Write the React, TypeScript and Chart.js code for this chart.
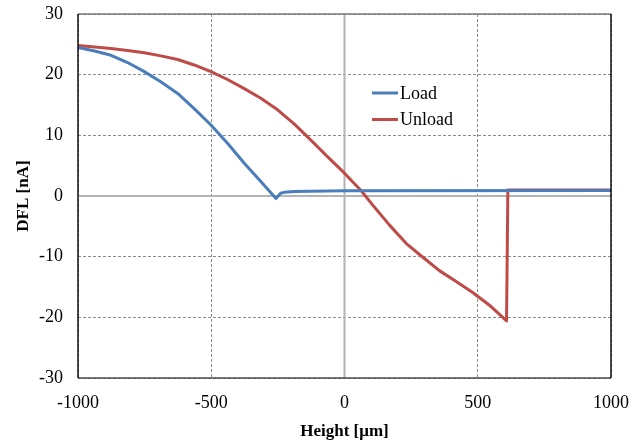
import { useEffect, useRef } from "react";
import { Chart, registerables } from "chart.js";

Chart.register(...registerables);

// Load curve (Height µm, DFL nA)
const loadX = [-1000, -938, -876, -814, -751, -688, -626, -564, -501, -439, -376, -314, -257, -240, -226, -189, 0, 1000];
const loadY = [24.5, 23.9, 23.2, 22.0, 20.5, 18.8, 16.9, 14.4, 11.7, 8.7, 5.4, 2.4, -0.4, 0.45, 0.6, 0.75, 0.85, 0.9];

// Unload curve
const unloadX = [-1000, -876, -814, -751, -689, -626, -564, -501, -439, -376, -314, -251, -189, -126, -64, -1, 62, 106, 169, 231, 294, 356, 419, 481, 544, 608, 613, 1000];
const unloadY = [24.8, 24.3, 24.0, 23.6, 23.1, 22.5, 21.6, 20.5, 19.2, 17.7, 16.1, 14.2, 11.9, 9.2, 6.5, 3.8, 0.9, -1.5, -4.8, -7.8, -10.1, -12.3, -14.1, -15.9, -18.0, -20.6, 1.0, 1.0];

const seriesNames = ["Load", "Unload"];
const seriesColors = ["#4a7ebb", "#be4b48"];
const xTickValues = [-1000, -500, 0, 500, 1000];
const yTickValues = [-30, -20, -10, 0, 10, 20, 30];
const xTitle = "Height [\u03bcm]";
const yTitle = "DFL [nA]";

const FONT = "'Liberation Serif', 'Times New Roman', serif";

export default function App() {
  const ref = useRef<HTMLCanvasElement | null>(null);

  useEffect(() => {
    const canvas = ref.current;
    if (!canvas) return;

    const overlay = {
      id: "overlay",
      beforeDatasetsDraw(chart: any) {
        const { ctx, chartArea, scales } = chart;
        const x0 = scales.x.getPixelForValue(0);
        const y0 = scales.y.getPixelForValue(0);
        ctx.save();
        ctx.strokeStyle = "#b4b4b4";
        ctx.lineWidth = 2;
        ctx.setLineDash([]);
        ctx.beginPath();
        ctx.moveTo(x0, chartArea.top);
        ctx.lineTo(x0, chartArea.bottom);
        ctx.moveTo(chartArea.left, y0);
        ctx.lineTo(chartArea.right, y0);
        ctx.stroke();
        ctx.restore();
      },
      afterDatasetsDraw(chart: any) {
        const { ctx, chartArea } = chart;
        const { left, right, top, bottom } = chartArea;
        ctx.save();
        ctx.setLineDash([]);
        ctx.lineWidth = 1.5;
        ctx.strokeStyle = "#7a7a7a";
        ctx.beginPath();
        ctx.moveTo(left, top);
        ctx.lineTo(right, top);
        ctx.stroke();
        ctx.strokeStyle = "#4a4a4a";
        ctx.beginPath();
        ctx.moveTo(left, bottom);
        ctx.lineTo(right, bottom);
        ctx.stroke();
        ctx.strokeStyle = "#111111";
        ctx.beginPath();
        ctx.moveTo(left, top);
        ctx.lineTo(left, bottom);
        ctx.moveTo(right, top);
        ctx.lineTo(right, bottom);
        ctx.stroke();

        // legend
        const lx = left + 294;
        const ly = top + 79;
        seriesNames.forEach((name, i) => {
          const y = ly + i * 26.5;
          ctx.strokeStyle = seriesColors[i];
          ctx.lineWidth = 3;
          ctx.beginPath();
          ctx.moveTo(lx, y);
          ctx.lineTo(lx + 26, y);
          ctx.stroke();
          ctx.fillStyle = "#000";
          ctx.font = `18px ${FONT}`;
          ctx.textBaseline = "middle";
          ctx.textAlign = "left";
          ctx.fillText(name, lx + 28, y + 1);
        });
        ctx.restore();
      },
    };

    const chart = new Chart(canvas, {
      type: "scatter",
      data: {
        datasets: [
          {
            label: seriesNames[0],
            data: loadX.map((x, i) => ({ x, y: loadY[i] })),
            borderColor: seriesColors[0],
            backgroundColor: seriesColors[0],
            borderWidth: 3,
            showLine: true,
            pointRadius: 0,
            tension: 0,
            borderJoinStyle: "round",
          },
          {
            label: seriesNames[1],
            data: unloadX.map((x, i) => ({ x, y: unloadY[i] })),
            borderColor: seriesColors[1],
            backgroundColor: seriesColors[1],
            borderWidth: 3,
            showLine: true,
            pointRadius: 0,
            tension: 0,
            borderJoinStyle: "round",
          },
        ],
      },
      options: {
        responsive: false,
        animation: false,
        layout: { padding: { left: 0, right: 24, top: 14, bottom: 0 } },
        plugins: { legend: { display: false }, tooltip: { enabled: false } },
        scales: {
          x: {
            type: "linear",
            min: -1000,
            max: 1000,
            afterBuildTicks: (s: any) => {
              s.ticks = xTickValues.map((v) => ({ value: v }));
            },
            afterFit: (s: any) => {
              s.height = 66;
              s.paddingLeft = 0;
              s.paddingRight = 0;
            },
            ticks: {
              color: "#000",
              font: { family: FONT, size: 18 },
              padding: 14,
              maxRotation: 0,
              callback: (v: any) => String(v),
            },
            grid: { color: "#8a8a8a", lineWidth: 1, drawTicks: false },
            border: { display: false, dash: [3, 2] },
            title: {
              display: true,
              text: xTitle,
              color: "#000",
              font: { family: FONT, size: 17, weight: "bold" },
              padding: { top: 2, bottom: 2 },
            },
          },
          y: {
            type: "linear",
            min: -30,
            max: 30,
            afterBuildTicks: (s: any) => {
              s.ticks = yTickValues.map((v) => ({ value: v }));
            },
            afterFit: (s: any) => {
              s.width = 78;
              s.paddingTop = 0;
              s.paddingBottom = 0;
            },
            ticks: {
              color: "#000",
              font: { family: FONT, size: 18 },
              padding: 15,
              callback: (v: any) => String(v),
            },
            grid: { color: "#8a8a8a", lineWidth: 1, drawTicks: false },
            border: { display: false, dash: [3, 2] },
            title: {
              display: true,
              text: yTitle,
              color: "#000",
              font: { family: FONT, size: 17, weight: "bold" },
              padding: { top: 13, bottom: 13 },
            },
          },
        },
      },
      plugins: [overlay],
    } as any);

    return () => chart.destroy();
  }, []);

  return (
    <div style={{ position: "fixed", left: 0, top: 0, width: 635, height: 444, background: "#fff" }}>
      <canvas ref={ref} width={635} height={444} />
    </div>
  );
}
